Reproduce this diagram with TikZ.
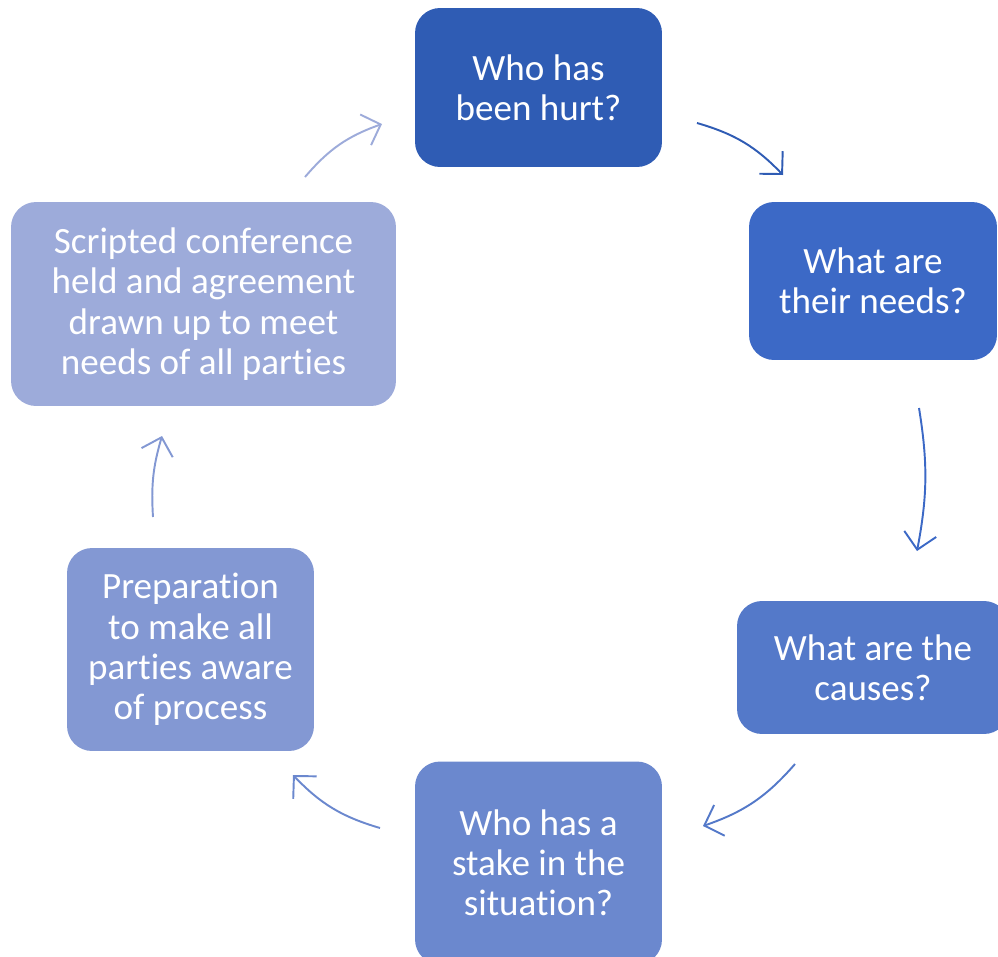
\documentclass[tikz,border=0pt]{standalone}
\usepackage{fontspec}
\setmainfont{Carlito}[Ligatures=NoCommon]
\usetikzlibrary{arrows.meta}
\definecolor{stepone}{RGB}{47,92,180}
\definecolor{steptwo}{RGB}{60,105,198}
\definecolor{stepthree}{RGB}{84,121,201}
\definecolor{stepfour}{RGB}{107,136,206}
\definecolor{stepfive}{RGB}{131,152,211}
\definecolor{stepsix}{RGB}{157,171,218}

\tikzset{
    stage/.style={rounded corners=0.5cm, text=white, align=center, inner sep=0pt,
        font=\fontsize{21.1}{22.9}\selectfont},
    cyc/.style={-{Straight Barb[length=0.32cm, width=0.65cm]}, line width=1.1pt, bend left=15},
}

\begin{document}
\begin{tikzpicture}[x=0.02cm, y=-0.02cm]
    \useasboundingbox (0,0) rectangle (998,957);

    % Stages of the cycle
    \node[stage, fill=stepone, minimum width=4.94cm, minimum height=3.18cm] (hurt) at (538.5,87.5) {Who has\\been hurt?};
    \node[stage, fill=steptwo, minimum width=4.96cm, minimum height=3.16cm] (needs) at (873,281) {What are\\their needs?};
    \node[stage, fill=stepthree, minimum width=5.44cm, minimum height=2.66cm] (causes) at (873,667.5) {What are the\\causes?};
    \node[stage, fill=stepfour, minimum width=4.94cm, minimum height=4.06cm] (stake) at (538.5,863) {Who has a\\stake in the\\situation?};
    \node[stage, fill=stepfive, minimum width=4.94cm, minimum height=4.06cm] (prep) at (190.5,649.5) {Preparation\\to make all\\parties aware\\of process};
    \node[stage, fill=stepsix, minimum width=7.7cm, minimum height=4.08cm] (conf) at (203.5,304) {Scripted conference\\held and agreement\\drawn up to meet\\needs of all parties};

    % Arrow ends
    \coordinate (hurtout) at (697,123);
    \coordinate (needsin) at (783,175);
    \coordinate (needsout) at (919,408);
    \coordinate (causesin) at (917,551);
    \coordinate (causesout) at (795,764);
    \coordinate (stakein) at (703,826);
    \coordinate (stakeout) at (380,828);
    \coordinate (prepin) at (293,775);
    \coordinate (prepout) at (153,517);
    \coordinate (confin) at (162,436);
    \coordinate (confout) at (305,177);
    \coordinate (hurtin) at (382,124);

    % Arrows
    \draw[cyc, draw=stepone] (hurtout) to (needsin);
    \draw[cyc, draw=steptwo, bend left=10] (needsout) to (causesin);
    \draw[cyc, draw=stepthree] (causesout) to (stakein);
    \draw[cyc, draw=stepfour] (stakeout) to (prepin);
    \draw[cyc, draw=stepfive, bend left=10] (prepout) to (confin);
    \draw[cyc, draw=stepsix] (confout) to (hurtin);
\end{tikzpicture}
\end{document}
